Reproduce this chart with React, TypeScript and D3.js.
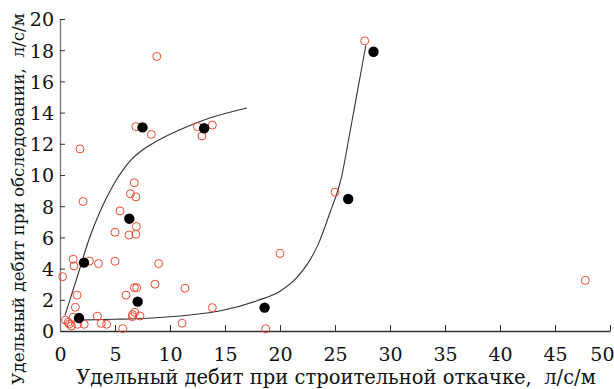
import { useEffect, useRef } from 'react';
import * as d3 from 'd3';

// open red circles: [строительная откачка, обследование]
const surveyX = [0.24, 1.82, 2.1, 8.8, 6.9, 8.3, 12.5, 13.85, 12.9, 27.7, 25, 20, 13.85, 18.7, 47.75,
  6.75, 6.4, 6.9, 5.45, 5.0, 6.94, 6.27, 6.9, 1.2, 1.27, 2.67, 3.5, 5.0, 8.97,
  1.55, 6.0, 6.76, 6.97, 8.64, 11.36, 1.4, 3.4, 3.75, 4.24, 5.7, 6.6, 6.8, 6.58, 7.27, 11.1,
  0.48, 0.85, 1.03, 1.2, 1.6, 2.2, 0.75];
const surveyY = [3.48, 11.67, 8.3, 17.6, 13.1, 12.6, 13.1, 13.2, 12.5, 18.6, 8.9, 4.97, 1.5, 0.14, 3.25,
  9.5, 8.8, 8.6, 7.7, 6.33, 6.7, 6.15, 6.2, 4.6, 4.17, 4.48, 4.32, 4.47, 4.32,
  2.3, 2.3, 2.78, 2.78, 3.0, 2.74, 1.52, 0.95, 0.49, 0.43, 0.15, 1.05, 1.2, 0.92, 0.96, 0.5,
  0.7, 0.45, 0.32, 0.88, 0.43, 0.43, 0.56];

// filled black circles
const meanX = [1.73, 2.18, 6.3, 7.06, 7.5, 13.1, 18.6, 26.2, 28.5];
const meanY = [0.83, 4.38, 7.2, 1.88, 13.05, 13.0, 1.5, 8.46, 17.9];

// trend lines
const upperX = [0.45, 1.0, 1.8, 2.6, 3.6, 4.8, 5.6, 6.5, 7.5, 8.6, 10.9, 13.6, 17];
const upperY = [1.0, 2.2, 4.0, 5.8, 7.6, 9.3, 10.2, 11.0, 11.6, 12.1, 12.9, 13.65, 14.3];
const lowerX = [1.5, 5, 8, 11.8, 14.5, 17.9, 20, 21.5, 22.5, 23.5, 24.5, 25.6, 26.4, 27.1, 27.8];
const lowerY = [0.7, 0.75, 0.82, 1.03, 1.28, 1.94, 2.55, 3.4, 4.3, 5.6, 7.5, 9.9, 12.9, 15.6, 18.3];

const xTicks = [0, 5, 10, 15, 20, 25, 30, 35, 40, 45, 50];
const yTicks = [0, 2, 4, 6, 8, 10, 12, 14, 16, 18, 20];

const xTitle = 'Удельный дебит при строительной откачке,  л/с/м';
const yTitle = 'Удельный дебит при обследовании,  л/с/м';

const W = 614, H = 389;
const FONT = '"DejaVu Serif", serif';

export default function App() {
  const svgRef = useRef<SVGSVGElement>(null);

  useEffect(() => {
    const svg = d3.select(svgRef.current);
    svg.selectAll('*').remove();

    const x = d3.scaleLinear().domain([0, 50]).range([60, 610]);
    const y = d3.scaleLinear().domain([0, 20]).range([331, 19]);

    // axes
    const gx = svg.append('g').attr('transform', `translate(0,${y(0)})`)
      .call(d3.axisBottom(x).tickValues(xTicks).tickSize(-6).tickSizeOuter(0).tickPadding(17));
    gx.select('.domain').attr('stroke', '#333').attr('stroke-width', 1.3);
    gx.selectAll('.tick line').attr('stroke', '#333');
    gx.selectAll('.tick text').attr('fill', '#111').style('font-family', FONT).style('font-size', '19px');
    // last label kept inside the picture
    gx.selectAll<SVGTextElement, number>('.tick text')
      .filter(d => d === 50)
      .attr('text-anchor', 'end').attr('x', 614 - x(50));

    const gy = svg.append('g').attr('transform', `translate(${x(0)},0)`)
      .call(d3.axisLeft(y).tickValues(yTicks).tickSize(-5).tickSizeOuter(0).tickPadding(6));
    gy.select('.domain').attr('stroke', '#777').attr('stroke-width', 1.3);
    gy.selectAll('.tick line').attr('stroke', '#333');
    gy.selectAll('.tick text').attr('fill', '#111').attr('dy', '0.36em').style('font-family', FONT).style('font-size', '19px');

    // trend lines
    const line = d3.line<number>().curve(d3.curveMonotoneX);
    svg.append('path')
      .attr('d', line.x(i => x(upperX[i])).y(i => y(upperY[i]))(d3.range(upperX.length)))
      .attr('fill', 'none').attr('stroke', '#333').attr('stroke-width', 1.1);
    svg.append('path')
      .attr('d', line.x(i => x(lowerX[i])).y(i => y(lowerY[i]))(d3.range(lowerX.length)))
      .attr('fill', 'none').attr('stroke', '#333').attr('stroke-width', 1.1);

    // points
    svg.append('g').selectAll('circle')
      .data(d3.range(surveyX.length))
      .enter().append('circle')
      .attr('cx', i => x(surveyX[i]))
      .attr('cy', i => y(surveyY[i]))
      .attr('r', 4)
      .attr('fill', 'none')
      .attr('stroke', '#ef4a32')
      .attr('stroke-width', 1);

    svg.append('g').selectAll('circle')
      .data(d3.range(meanX.length))
      .enter().append('circle')
      .attr('cx', i => x(meanX[i]))
      .attr('cy', i => y(meanY[i]))
      .attr('r', 5.2)
      .attr('fill', '#000');

    // titles, sized to the span they take in the original
    const fit = (t: d3.Selection<SVGTextElement, unknown, null, undefined>, span: number) => {
      const len = (t.node() as SVGTextElement).getComputedTextLength();
      t.style('font-size', `${(18 * span / len).toFixed(2)}px`);
    };

    const xt = svg.append('text')
      .attr('x', 336).attr('y', 384)
      .attr('text-anchor', 'middle')
      .style('white-space', 'pre')
      .style('font-family', FONT).style('font-size', '18px').attr('fill', '#111')
      .text(xTitle);
    fit(xt as any, 520);

    const yt = svg.append('text')
      .attr('transform', `translate(24,199) rotate(-90)`)
      .attr('text-anchor', 'middle')
      .style('white-space', 'pre')
      .style('font-family', FONT).style('font-size', '18px').attr('fill', '#111')
      .text(yTitle);
    fit(yt as any, 372);
  }, []);

  return (
    <svg ref={svgRef} width={W} height={H}
      style={{ position: 'absolute', left: 0, top: 0, background: '#fff' }} />
  );
}
